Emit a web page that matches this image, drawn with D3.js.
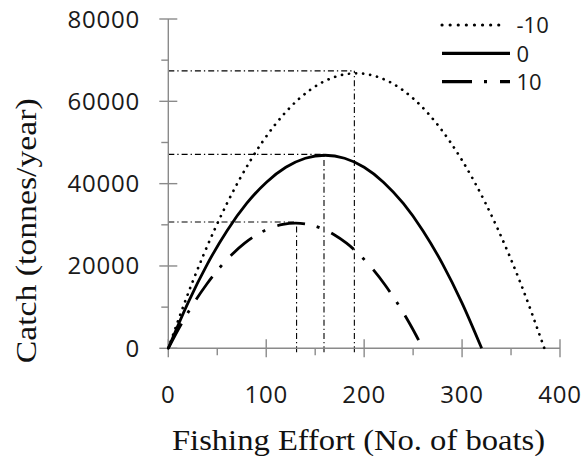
<!DOCTYPE html>
<html><head><meta charset="utf-8">
<script src="https://cdn.jsdelivr.net/npm/d3@7/dist/d3.min.js"></script>
<style>body{margin:0;background:#fff}svg{display:block}</style>
</head><body>
<svg id="c" width="582" height="456"></svg>
<script>
// ---- data ----
const seriesNames = ["-10", "0", "10"];
const effortM10 = [0,24,48,72,96,120,144,168,192,216,240,264,288,312,336,360,384];
const catchM10  = [0,15660,29230,40710,50100,57410,62630,65760,66800,65760,62630,57410,50100,40710,29230,15660,0];
const effort0   = [0,20,40,60,80,100,120,140,160,180,200,220,240,260,280,300,320];
const catch0    = [0,10990,20520,28580,35180,40300,43970,46170,46900,46170,43970,40300,35180,28580,20520,10990,0];
const effortP10 = [0,13,26,39,52,65,78,91,104,117,130,143,156,169,182,195,208,221,234,247,260];
const catchP10  = [0,5780,10940,15500,19460,22800,25540,27660,29180,30100,30400,30100,29180,27660,25540,22800,19460,15500,10940,5780,0];
// MSY guide points (effort, catch)
const msyEffort = [190, 159, 131];
const msyCatch  = [67400, 47100, 30700];
const xTicks = [0,100,200,300,400];
const xMinor = [50,150,250,350];
const yTicks = [0,20000,40000,60000,80000];
const yMinor = [10000,30000,50000,70000];

const svg = d3.select("#c");
const x = d3.scaleLinear().domain([0,400]).range([168.3,560]);
const y = d3.scaleLinear().domain([0,80000]).range([348.3,19]);
const axisCol = "#8a8a8a";

// guides
const guides = svg.append("g").attr("stroke","#000").attr("stroke-width",1.1)
  .attr("stroke-dasharray","6,3,1.3,3").attr("fill","none");
msyEffort.forEach((e,i)=>{
  guides.append("line").attr("x1",x(0)).attr("x2",x(e)).attr("y1",y(msyCatch[i])).attr("y2",y(msyCatch[i]));
  guides.append("line").attr("x1",x(e)).attr("x2",x(e)).attr("y1",y(0)+4).attr("y2",y(msyCatch[i]));
});

// axes
const ax = svg.append("g").attr("stroke",axisCol).attr("stroke-width",1.4);
ax.append("line").attr("x1",x(0)).attr("x2",x(400)).attr("y1",y(0)).attr("y2",y(0));
ax.append("line").attr("x1",x(0)).attr("x2",x(0)).attr("y1",y(0)).attr("y2",y(80000));
xTicks.forEach(t=>ax.append("line").attr("x1",x(t)).attr("x2",x(t)).attr("y1",y(0)-9).attr("y2",y(0)+9));
xMinor.forEach(t=>ax.append("line").attr("x1",x(t)).attr("x2",x(t)).attr("y1",y(0)).attr("y2",y(0)+7));
yTicks.forEach(t=>ax.append("line").attr("x1",x(0)-9).attr("x2",x(0)+9).attr("y1",y(t)).attr("y2",y(t)));
yMinor.forEach(t=>ax.append("line").attr("x1",x(0)-7).attr("x2",x(0)).attr("y1",y(t)).attr("y2",y(t)));

const tickFont = "'Open Sans', sans-serif";
svg.append("g").selectAll("text").data(xTicks).join("text")
  .attr("x",d=>x(d)).attr("y",403).attr("text-anchor","middle")
  .attr("font-family",tickFont).attr("font-size",24).attr("letter-spacing",0.8).attr("fill","#1a1a1a")
  .text(d=>d);
svg.append("g").selectAll("text").data(yTicks).join("text")
  .attr("x",140).attr("y",d=>y(d)+8.5).attr("text-anchor","end")
  .attr("font-family",tickFont).attr("font-size",24).attr("letter-spacing",0.8).attr("fill","#1a1a1a")
  .text(d=>d);

// axis titles
svg.append("text").attr("x",172).attr("y",449.5)
  .attr("font-family","'Liberation Serif', serif").attr("font-size",30)
  .attr("textLength",373).attr("lengthAdjust","spacingAndGlyphs").attr("fill","#111")
  .text("Fishing Effort (No. of boats)");
svg.append("text").attr("transform","translate(35.5,363.3) rotate(-90)")
  .attr("font-family","'Liberation Serif', serif").attr("font-size",30)
  .attr("textLength",265).attr("lengthAdjust","spacingAndGlyphs").attr("fill","#111")
  .text("Catch (tonnes/year)");

// curves
const styles = [
  {dash:"0.1,7", width:2.7, cap:"round"},
  {dash:null, width:2.8, cap:"butt"},
  {dash:"28,12,3,13", width:2.8, cap:"butt"}
];
const data = [
  d3.zip(effortM10, catchM10),
  d3.zip(effort0, catch0),
  d3.zip(effortP10, catchP10)
];
const line = d3.line().x(d=>x(d[0])).y(d=>y(d[1])).curve(d3.curveMonotoneX);
data.forEach((d,i)=>{
  const p = svg.append("path").attr("d",line(d)).attr("fill","none").attr("stroke","#000")
    .attr("stroke-width",styles[i].width).attr("stroke-linecap",styles[i].cap);
  if (styles[i].dash) p.attr("stroke-dasharray",styles[i].dash);
});

// legend
const legY = [25, 53.3, 81.7];
const legBase = [32.7, 61.5, 90];
seriesNames.forEach((n,i)=>{
  const l = svg.append("line").attr("x1",442).attr("x2",i===0?506:510).attr("y1",legY[i]).attr("y2",legY[i])
    .attr("stroke","#000").attr("stroke-width",styles[i].width+0.4).attr("stroke-linecap",styles[i].cap);
  if (i===0) l.attr("stroke-dasharray","0.1,8");
  if (i===2) l.attr("stroke-dasharray","30,12,3,13");
  svg.append("text").attr("x",516.5).attr("y",legBase[i])
    .attr("font-family",tickFont).attr("font-size",22).attr("fill","#1a1a1a").text(n);
});
</script>
</body></html>
